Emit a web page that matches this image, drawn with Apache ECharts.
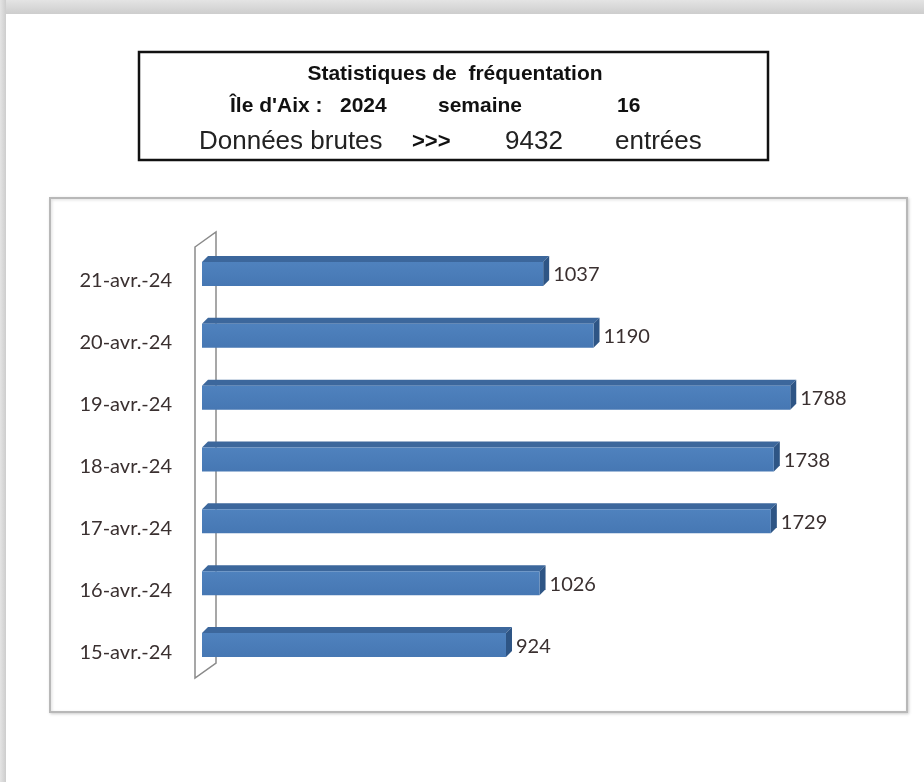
<!DOCTYPE html>
<html>
<head>
<meta charset="utf-8">
<script src="https://cdn.jsdelivr.net/npm/echarts@6/dist/echarts.min.js"></script>
<style>
  html, body { margin: 0; padding: 0; background: #fff; }
  #chart { width: 924px; height: 782px; }
</style>
</head>
<body>
<div id="chart"></div>
<script>
// données (du bas vers le haut)
var jours = ['15-avr.-24', '16-avr.-24', '17-avr.-24', '18-avr.-24', '19-avr.-24', '20-avr.-24', '21-avr.-24'];
var entrees = [924, 1026, 1729, 1738, 1788, 1190, 1037];

var annee = '2024';
var semaine = '16';
var total = '9432';

var chart = echarts.init(document.getElementById('chart'));

// barre en 3D : face avant, dessus, côté droit
function barre3d(params, api) {
  var i = api.value(0);
  var v = api.value(1);
  var p0 = api.coord([0, i]);
  var p1 = api.coord([v, i]);
  var x0 = p0[0], x1 = p1[0], cy = p0[1];
  var d = 6;
  var top = cy - 10, bot = cy + 14;
  return {
    type: 'group',
    children: [
      {
        type: 'polygon',
        shape: { points: [[x0, top], [x0 + d, top - d], [x1 + d, top - d], [x1, top]] },
        style: { fill: '#3c679c' }
      },
      {
        type: 'polygon',
        shape: { points: [[x1, top], [x1 + d, top - d], [x1 + d, bot - d], [x1, bot]] },
        style: { fill: '#2e5585' }
      },
      {
        type: 'rect',
        shape: { x: x0, y: top, width: x1 - x0, height: bot - top },
        style: {
          fill: new echarts.graphic.LinearGradient(0, 0, 0, 1, [
            { offset: 0, color: '#4f82be' },
            { offset: 1, color: '#4677b3' }
          ])
        }
      },
      {
        type: 'text',
        style: {
          x: x1 + d + 4, y: cy + 3,
          text: String(v),
          fill: '#3a3030',
          font: '20px Lato',
          verticalAlign: 'middle'
        }
      }
    ]
  };
}

var option = {
  backgroundColor: '#fff',
  animation: false,
  grid: { left: 202, right: 64, top: 241, bottom: 108 },
  xAxis: { type: 'value', min: 0, max: 2000, show: false },
  yAxis: {
    type: 'category',
    data: jours,
    axisLine: { show: false },
    axisTick: { show: false },
    axisLabel: { margin: 30, color: '#3a3030', fontFamily: 'Lato', fontSize: 20, lineHeight: 18, verticalAlign: 'top' }
  },
  graphic: [
    // ombre de la page
    { type: 'rect', z: -10, shape: { x: 0, y: 0, width: 924, height: 14 },
      style: { fill: new echarts.graphic.LinearGradient(0, 0, 0, 1, [
        { offset: 0, color: '#e4e4e4' }, { offset: 1, color: '#cdcdcd' }]) } },
    { type: 'rect', z: -10, shape: { x: 0, y: 0, width: 6, height: 782 },
      style: { fill: new echarts.graphic.LinearGradient(0, 0, 1, 0, [
        { offset: 0, color: '#e4e4e4' }, { offset: 1, color: '#cdcdcd' }]) } },
    // cadre du titre
    { type: 'rect', shape: { x: 139, y: 52, width: 629, height: 108 },
      style: { fill: '#fff', stroke: '#111', lineWidth: 2.5 } },
    { type: 'text', style: { x: 455, y: 74, text: 'Statistiques de  fréquentation', textAlign: 'center', textVerticalAlign: 'middle', font: 'bold 21px "Liberation Sans"', fill: '#111' } },
    { type: 'text', style: { x: 230, y: 106, text: "Île d'Aix :", textVerticalAlign: 'middle', font: 'bold 21px "Liberation Sans"', fill: '#111' } },
    { type: 'text', style: { x: 340, y: 106, text: annee, textVerticalAlign: 'middle', font: 'bold 21px "Liberation Sans"', fill: '#111' } },
    { type: 'text', style: { x: 438, y: 106, text: 'semaine', textVerticalAlign: 'middle', font: 'bold 21px "Liberation Sans"', fill: '#111' } },
    { type: 'text', style: { x: 617, y: 106, text: semaine, textVerticalAlign: 'middle', font: 'bold 21px "Liberation Sans"', fill: '#111' } },
    { type: 'text', style: { x: 199, y: 142, text: 'Données brutes', textVerticalAlign: 'middle', font: '26px "Liberation Sans"', fill: '#222' } },
    { type: 'text', style: { x: 412, y: 142, text: '>>>', textVerticalAlign: 'middle', font: 'bold 22px "Liberation Sans"', fill: '#111' } },
    { type: 'text', style: { x: 505, y: 142, text: total, textVerticalAlign: 'middle', font: '26px "Liberation Sans"', fill: '#222' } },
    { type: 'text', style: { x: 615, y: 142, text: 'entrées', textVerticalAlign: 'middle', font: '26px "Liberation Sans"', fill: '#222' } },
    // cadre du graphique
    { type: 'rect', z: -5, shape: { x: 50, y: 198, width: 857, height: 514 },
      style: { fill: '#fff', stroke: '#b8b8b8', lineWidth: 2, shadowColor: 'rgba(0,0,0,0.15)', shadowBlur: 3, shadowOffsetX: 1, shadowOffsetY: 1 } },
    // paroi 3D à gauche
    { type: 'polygon', z: -1, shape: { points: [[195, 247], [216, 232], [216, 663], [195, 678]] },
      style: { fill: '#fff', stroke: '#8a8a8a', lineWidth: 1.5 } }
  ],
  series: [{
    type: 'custom',
    renderItem: barre3d,
    encode: { x: 1, y: 0 },
    data: entrees.map(function (v, i) { return [i, v]; }),
    z: 5
  }]
};

chart.setOption(option);
</script>
</body>
</html>
